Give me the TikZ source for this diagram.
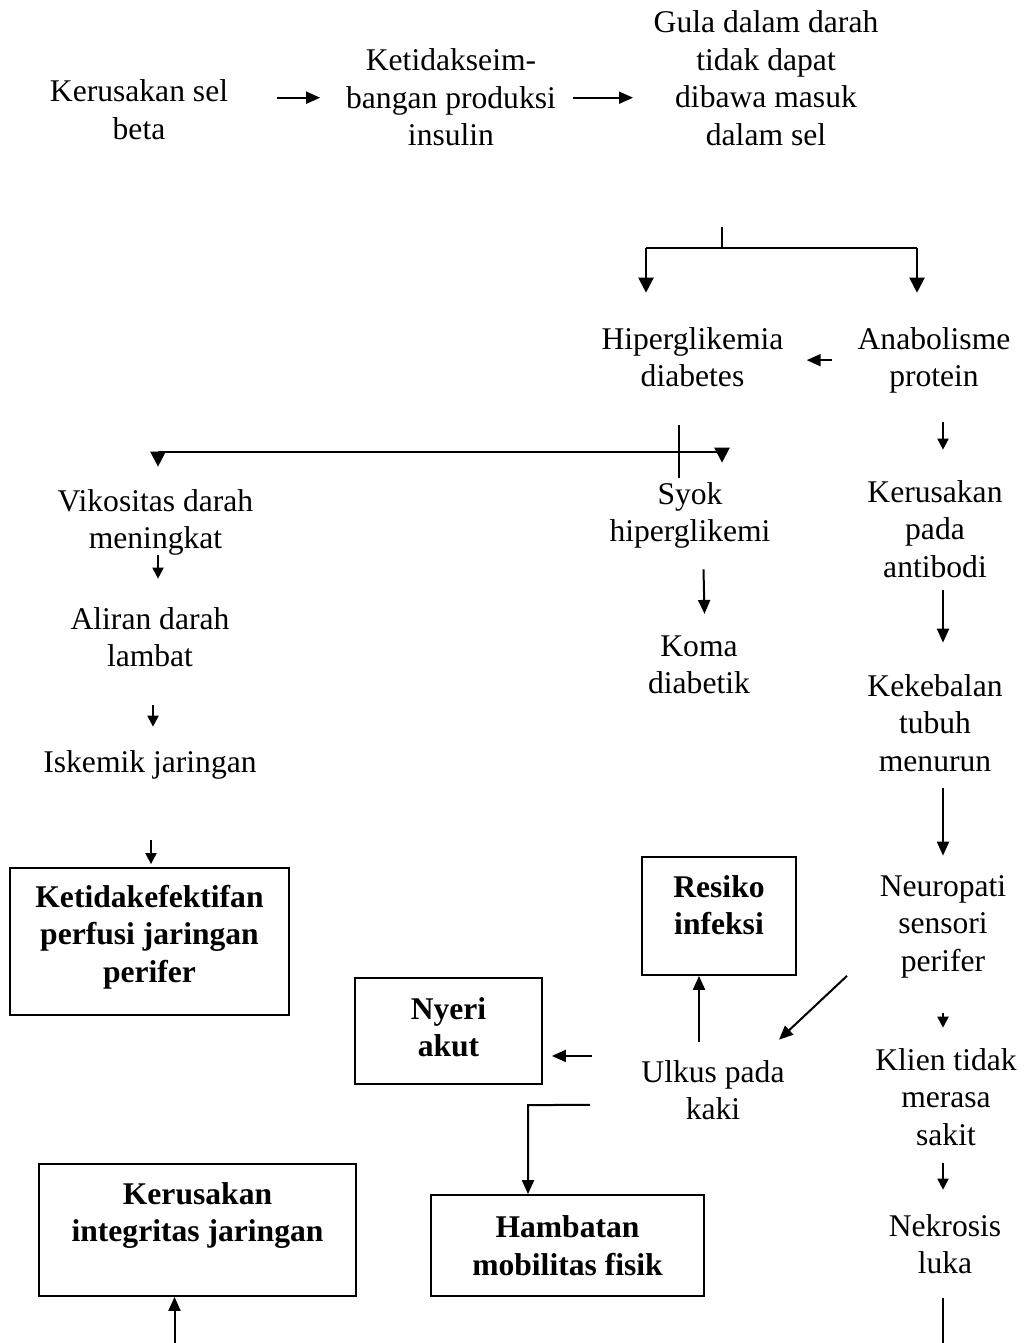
\documentclass[tikz,border=0pt]{standalone}
\usepackage{fontspec}
\setmainfont{Liberation Serif}
\usetikzlibrary{arrows.meta}
\begin{document}
\begin{tikzpicture}[x=1pt,y=-1pt,
 txt/.style={align=center,inner sep=0pt,outer sep=0pt,anchor=base,font=\fontsize{31.6pt}{37.5pt}\selectfont},
 bx/.style={draw,line width=1.8pt,inner sep=0pt},
 lbl/.style={align=center,inner sep=0pt,font=\fontsize{31.6pt}{37.5pt}\selectfont\bfseries},
 ln/.style={line width=2pt},
 arr/.style={line width=2pt,-{Triangle[length=14pt,width=12pt]}},
 sarr/.style={line width=2pt,-{Triangle[length=11pt,width=11pt]}},
 barr/.style={line width=2.2pt,-{Triangle[length=15pt,width=15pt]}}]
\useasboundingbox (0,0) rectangle (1023,1343);

% text nodes (placed by the baseline of their last line)
\node[txt] (n1) at (139,139.5) {Kerusakan sel\\beta};
\node[txt] (n2) at (451,146) {Ketidakseim-\\bangan produksi\\insulin};
\node[txt] (n3) at (766,145.5) {Gula dalam darah\\tidak dapat\\dibawa masuk\\dalam sel};
\node[txt] (hip) at (692.5,386.5) {Hiperglikemia\\diabetes};
\node[txt] (anab) at (934,386.5) {Anabolisme\\protein};
\node[txt] (vik) at (155.5,548.5) {Vikositas darah\\meningkat};
\node[txt] (syok) at (690,541.5) {Syok\\hiperglikemi};
\node[txt] (koma) at (699,693.5) {Koma\\diabetik};
\node[txt] (ali) at (150,666.5) {Aliran darah\\lambat};
\node[txt] (isk) at (150,772) {Iskemik jaringan};
\node[txt] (kp) at (935,577) {Kerusakan\\pada\\antibodi};
\node[txt] (keb) at (935,771) {Kekebalan\\tubuh\\menurun};
\node[txt] (neu) at (943,971) {Neuropati\\sensori\\perifer};
\node[txt] (klien) at (946,1145) {Klien tidak\\merasa\\sakit};
\node[txt] (nek) at (945,1273.5) {Nekrosis\\luka};
\node[txt] (ulkus) at (713,1119.5) {Ulkus pada\\kaki};

% boxes
\node[bx,minimum width=279pt,minimum height=147pt,label={[lbl,yshift=4.3pt]center:Ketidakefektifan\\perfusi jaringan\\perifer}] (b1) at (149.5,941.5) {};
\node[bx,minimum width=154pt,minimum height=118pt,label={[lbl,yshift=11pt]center:Resiko\\infeksi}] (res) at (719,916) {};
\node[bx,minimum width=187pt,minimum height=106pt,label={[lbl,yshift=4pt]center:Nyeri\\akut}] (nyeri) at (448.5,1031) {};
\node[bx,minimum width=317pt,minimum height=132pt,label={[lbl,yshift=14.6pt]center:Kerusakan\\integritas jaringan}] (kij) at (197.5,1230) {};
\node[bx,minimum width=273pt,minimum height=101pt,label={[lbl]center:Hambatan\\mobilitas fisik}] (hmf) at (567.5,1245.5) {};

% junction coordinates
\coordinate (bj) at (722,248);
\coordinate (bl) at (646,248);
\coordinate (br) at (917,248);
\coordinate (hl) at (158,452);
\coordinate (hr) at (722,452);
\coordinate (rc) at (943,0);
\coordinate (hk) at (528,1105);
\coordinate (endR) at (943,1343);
\coordinate (endL) at (174.5,1343);

% top row
\draw[arr,shorten <=49pt,shorten >=26pt] (n1.east |- n2.west) -- (n2.west);
\draw[arr,shorten <=17pt,shorten >=20.7pt] (n2.east) -- (n2.east -| n3.west);

% bracket
\draw[ln,shorten <=81pt] (n3.south -| bj) -- (bj);
\draw[ln] (bl) -- (br);
\draw[barr,shorten >=34.4pt] (bl) -- (bl |- hip.north);
\draw[barr,shorten >=34.4pt] (br) -- (br |- anab.north);
\draw[arr,shorten <=25.6pt,shorten >=23.2pt] (anab.west) -- (anab.west -| hip.east);

% hiperglikemia branch
\draw[line width=1.5pt,shorten <=38.2pt,shorten >=4.4pt] ([xshift=-13.5pt]hip.south) -- ([xshift=-13.5pt]hip.south |- syok.north);
\draw[ln] (hl) -- (hr);
\draw[barr,shorten >=22.4pt] (hl) -- (hl |- vik.north);
\draw[barr,shorten >=19.4pt] (hr) -- (hr |- syok.north);
\draw[arr,shorten <=21pt,shorten >=21.4pt] ([xshift=13pt]syok.south) -- ([xshift=6pt]koma.north);

% left column
\draw[sarr,shorten >=28.4pt] ([xshift=2.5pt]vik.south) -- ([xshift=2.5pt]vik.south |- ali.north);
\draw[sarr,shorten <=38.2pt,shorten >=23.4pt] ([xshift=3pt]ali.south) -- ([xshift=3pt]ali.south |- isk.north);
\draw[sarr,shorten <=61pt,shorten >=3pt] ([xshift=1pt]isk.south) -- ([xshift=1pt]isk.south |- b1.north);

% right column
\draw[sarr,shorten <=28.6pt,shorten >=30.4pt] (anab.south -| rc) -- (kp.north -| rc);
\draw[arr,shorten <=12.7pt,shorten >=31.4pt] (kp.south -| rc) -- (keb.north -| rc);
\draw[arr,shorten <=16.7pt,shorten >=19.4pt] (keb.south -| rc) -- (neu.north -| rc);
\draw[sarr,shorten <=35pt,shorten >=20.4pt] (neu.south -| rc) -- (klien.north -| rc);
\draw[sarr,shorten <=17.7pt,shorten >=24.4pt] (klien.south -| rc) -- (nek.north -| rc);
\draw[ln,shorten <=24.2pt] (nek.south -| rc) -- (endR);

% ulkus connections
\draw[arr,shorten <=18.4pt] ([xshift=-14pt]ulkus.north) -- ([xshift=-14pt]ulkus.north |- res.south);
\draw[arr,shorten <=49.5pt,shorten >=9pt] ([yshift=34pt]ulkus.west) -- ([yshift=34pt]ulkus.west -| nyeri.east);
\draw[arr,shorten <=51.5pt] ([yshift=-15pt]ulkus.west) -- (hk) -- (hk |- hmf.north);
\draw[arr] ([xshift=-32.8pt,yshift=1.9pt]neu.south west) -- ([xshift=-5.5pt,yshift=20.4pt]ulkus.north east);
\draw[arr] (endL) -- (kij.south -| endL);
\end{tikzpicture}
\end{document}
